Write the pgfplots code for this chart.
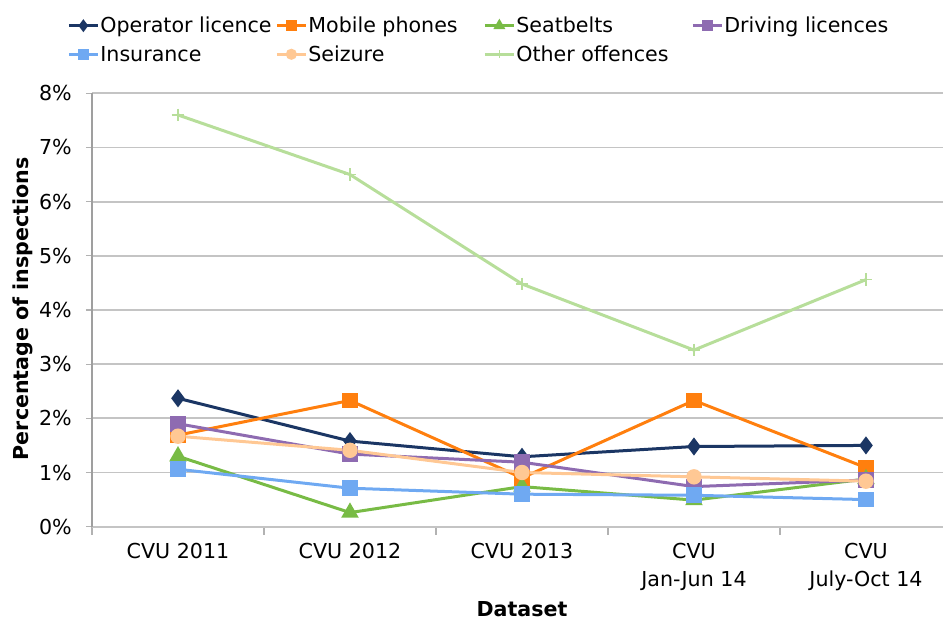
\documentclass[border=0pt]{standalone}
\usepackage{fontspec}
\setmainfont{DejaVu Sans}
\usepackage{pgfplots}
\pgfplotsset{compat=1.18}

\definecolor{cOper}{HTML}{1B3664}
\definecolor{cMob}{HTML}{FF7F0E}
\definecolor{cSeat}{HTML}{78BB45}
\definecolor{cDriv}{HTML}{8E6BB1}
\definecolor{cIns}{HTML}{6FA9F2}
\definecolor{cSeiz}{HTML}{FFC894}
\definecolor{cOther}{HTML}{B7DE9A}
\definecolor{cGrid}{HTML}{C4C4C4}

% one row of entries = 103.75bp pitch
\newcommand{\lent}[1]{\makebox[87bp][l]{\strut #1}}

\begin{document}
\fontsize{10.3bp}{12.5bp}\selectfont
\begin{tikzpicture}
\begin{axis}[
    name=ax,
    scale only axis,
    width=425.5bp, height=216.7bp,
    xmin=-0.5, xmax=4.448,
    ymin=0, ymax=8,
    axis lines*=left,
    x axis line style={-, draw=cGrid, line width=0.9bp},
    y axis line style={-, draw=gray!75, line width=0.6bp},
    tick align=outside,
    xtick={0,1,2,3,4},
    xticklabels={CVU 2011, CVU 2012, CVU 2013, {CVU\\Jan-Jun 14}, {CVU\\July-Oct 14}},
    xticklabel style={align=center, yshift=-1.5bp, font=\fontsize{10.3bp}{14bp}\selectfont},
    minor xtick={-0.5,0.5,1.5,2.5,3.5},
    major x tick style={draw=none},
    minor x tick style={draw=gray!60, line width=0.6bp},
    minor tick length=4bp,
    major tick length=3bp,
    ytick={0,1,...,8},
    yticklabel={\pgfmathprintnumber{\tick}\%},
    yticklabel style={xshift=-3.5bp},
    y tick style={draw=gray!60, line width=0.6bp},
    /pgf/number format/assume math mode=true,
    ymajorgrids=true,
    major grid style={draw=cGrid, line width=0.9bp},
    xlabel={\textbf{Dataset}},
    xlabel style={at={(axis description cs:0.5053,0)}, anchor=north, yshift=-34bp},
    ylabel={\textbf{Percentage of inspections}},
    ylabel style={at={(axis description cs:-0.081,0.503)}, anchor=center},
    legend columns=4,
    legend style={draw=none, fill=none, inner sep=0pt,
        at={(axis description cs:-0.0294,1.183)}, anchor=north west,
        nodes={inner sep=0.5bp}, row sep=3bp,
        /tikz/every even column/.append style={column sep=0bp}},
    legend cell align=left,
    legend image code/.code={\draw[mark repeat=2,mark phase=2,#1,mark size=2bp] plot coordinates {(0bp,0bp) (7.25bp,0bp) (14.5bp,0bp)};},
    every axis plot/.append style={line width=1.5bp},
]
\addplot[cOper, mark=diamond*, mark size=3.3bp, mark options={solid, fill=cOper}] coordinates {
    (0,2.37) (1,1.58) (2,1.29) (3,1.48) (4,1.50)};
\addlegendentry{\lent{Operator licence}}
\addplot[cMob, mark=square*, mark size=3.2bp, mark options={solid, fill=cMob}] coordinates {
    (0,1.69) (1,2.33) (2,0.90) (3,2.33) (4,1.09)};
\addlegendentry{\lent{Mobile phones}}
\addplot[cSeat, mark=triangle*, mark size=3.6bp, mark options={solid, fill=cSeat}] coordinates {
    (0,1.30) (1,0.26) (2,0.74) (3,0.49) (4,0.88)};
\addlegendentry{\lent{Seatbelts}}
\addplot[cDriv, mark=square*, mark size=3.2bp, mark options={solid, fill=cDriv}] coordinates {
    (0,1.90) (1,1.34) (2,1.19) (3,0.74) (4,0.86)};
\addlegendentry{\lent{Driving licences}}
\addplot[cIns, mark=square*, mark size=3.2bp, mark options={solid, fill=cIns}] coordinates {
    (0,1.06) (1,0.71) (2,0.60) (3,0.58) (4,0.50)};
\addlegendentry{\lent{Insurance}}
\addplot[cSeiz, mark=*, mark size=3.1bp, mark options={solid, fill=cSeiz}] coordinates {
    (0,1.67) (1,1.41) (2,1.00) (3,0.92) (4,0.84)};
\addlegendentry{\lent{Seizure}}
\addplot[cOther, mark=+, mark size=3.2bp, mark options={solid, line width=0.8bp}] coordinates {
    (0,7.60) (1,6.50) (2,4.48) (3,3.26) (4,4.56)};
\addlegendentry{\lent{Other offences}}
\end{axis}
\pgfresetboundingbox
\path[use as bounding box] ([xshift=-46bp,yshift=-47.15bp]ax.south west) rectangle ([yshift=46.65bp]ax.north east);
\end{tikzpicture}
\end{document}
